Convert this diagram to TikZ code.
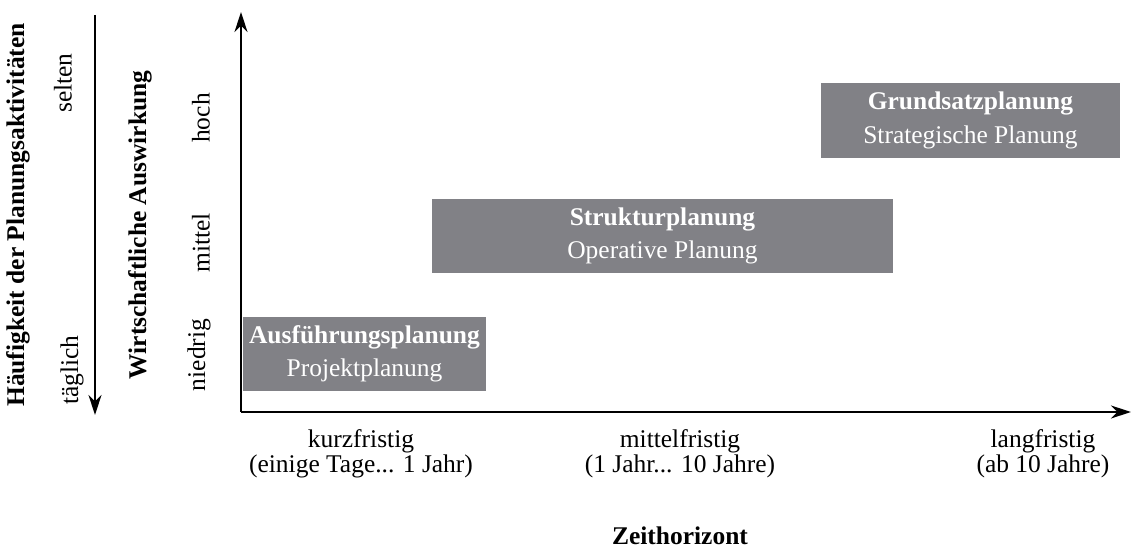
\documentclass[tikz,border=0pt]{standalone}
\usepackage{fontspec}
\setmainfont{Liberation Serif}
\usetikzlibrary{arrows.meta}
\definecolor{boxgray}{HTML}{818186}

\tikzset{
  planbox/.style={fill=boxgray, text=white, align=center, inner sep=0pt,
    font=\fontsize{14.5}{19}\selectfont},
  lbl/.style={align=center, inner sep=0pt, font=\fontsize{14.5}{13}\selectfont},
  axarrow/.style={line width=0.9pt, -{Stealth[length=4mm,width=2.6mm]}}
}

\begin{document}
\begin{tikzpicture}[x=0.02cm,y=0.02cm]
\useasboundingbox (0,0) rectangle (1134,551);
% axes
\coordinate (origin) at (241,139);
\coordinate (ytip) at (241,539);
\coordinate (xtip) at (1131,139);
\draw[axarrow] (origin) -- (ytip);
\draw[axarrow] (origin) -- (xtip);
% frequency arrow
\coordinate (freqtop) at (95,536);
\coordinate (freqbot) at (95,136);
\draw[axarrow] (freqtop) -- (freqbot);
% boxes
\node[planbox, minimum width=243*0.02cm, minimum height=74*0.02cm] (ausf) at (364.5,197)
  {\textbf{Ausführungsplanung}\\Projektplanung};
\node[planbox, minimum width=461*0.02cm, minimum height=74*0.02cm] (strukt) at (662.5,315)
  {\textbf{Strukturplanung}\\Operative Planung};
\node[planbox, minimum width=299*0.02cm, minimum height=75*0.02cm] (grund) at (970.5,430.5)
  {\textbf{Grundsatzplanung}\\Strategische Planung};
% left labels
\node[lbl, rotate=90] (haeuf) at (18,336) {\textbf{Häufigkeit der Planungsaktivitäten}};
\node[lbl, rotate=90] (selten) at (63,468) {selten};
\node[lbl, rotate=90] (taegl) at (72,181) {täglich};
\node[lbl, rotate=90] (wirt) at (140,326) {\textbf{Wirtschaftliche Auswirkung}};
\node[lbl, rotate=90] (hoch) at (201,433) {hoch};
\node[lbl, rotate=90] (mittel) at (201,308) {mittel};
\node[lbl, rotate=90] (niedrig) at (199,196) {niedrig};
% time labels
\node[lbl] (kurz) at (361,97) {kurzfristig\\(einige Tage... 1 Jahr)};
\node[lbl] (mittelfr) at (680,97) {mittelfristig\\(1 Jahr... 10 Jahre)};
\node[lbl] (lang) at (1043,97) {langfristig\\(ab 10 Jahre)};
\node[lbl] (zeit) at (680,15) {\textbf{Zeithorizont}};
\end{tikzpicture}
\end{document}
